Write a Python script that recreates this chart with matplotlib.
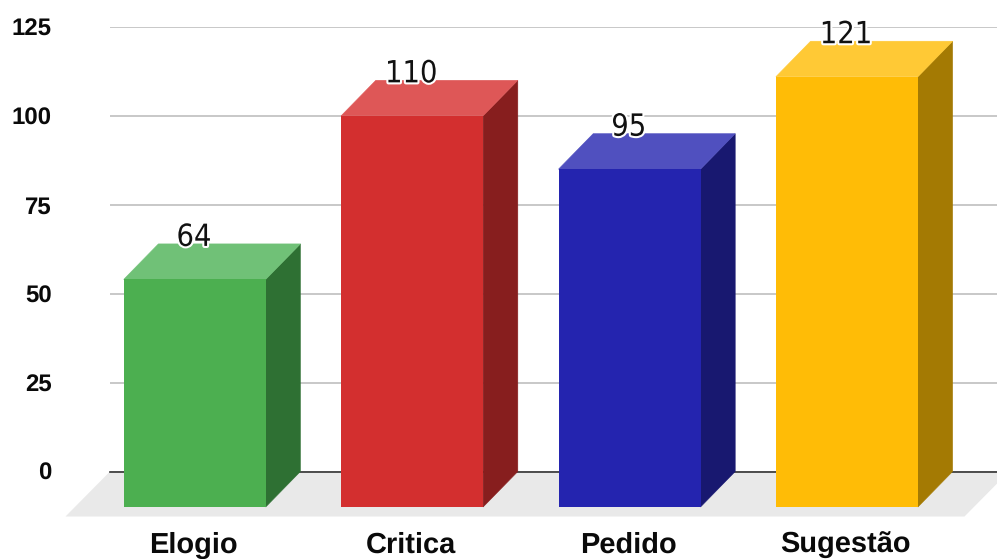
import matplotlib
matplotlib.use("Agg")
import matplotlib.pyplot as plt
import matplotlib.patheffects as pe
from matplotlib.patches import Polygon
from matplotlib.transforms import Affine2D

categories = ["Elogio", "Critica", "Pedido", "Sugestão"]
values = [64, 110, 95, 121]
y_ticks = [0, 25, 50, 75, 100, 125]
front_colors = ["#4CAF50", "#D32F2F", "#2424AF", "#FFBC06"]
top_colors = ["#70C177", "#DE5757", "#5050BF", "#FFC935"]
side_colors = ["#2E7033", "#871E1E", "#181870", "#A47A03"]

W, H = 997, 559
plt.rcParams["font.family"] = ["Liberation Sans", "DejaVu Sans"]
plt.rcParams["text.hinting"] = "no_hinting"
plt.rcParams["text.hinting_factor"] = 1
fig = plt.figure(figsize=(W / 100, H / 100), dpi=100, facecolor="white")

# axes rectangle in figure pixels
left, right, y0, y125 = 110, 1009, 471.5, 27
ax = fig.add_axes([left / W, (H - y0) / H, (right - left) / W, (y0 - y125) / H])
px_x = 217.4   # pixels per category
px_y = (y0 - y125) / 125
center0 = 194.7
ax.set_xlim((left - center0) / px_x, (right - center0) / px_x)
ax.set_ylim(0, 125)

bar_w = 142 / px_x
dx = 34.7 / px_x     # depth in x
dy = 35.5 / px_y     # depth in y

# floor
fx = 44.5 / px_x
fy = 45 / px_y
x0, x1 = ax.get_xlim()
ax.add_patch(Polygon([(x0, 0), (x1, 0), (x1 - fx, -fy), (x0 - fx, -fy)],
                     closed=True, fc="#E9E9E9", ec="none", clip_on=False, zorder=1))

ax.set_yticks(y_ticks)
ax.set_xticks(range(len(categories)), categories)
ax.grid(axis="y", color="#C8C8C8", lw=1.4, zorder=0)
ax.set_axisbelow(True)
for s in ("top", "left", "right"):
    ax.spines[s].set_visible(False)
ax.spines["bottom"].set_color("#333333")
ax.spines["bottom"].set_linewidth(1.2)
ax.spines["bottom"].set_zorder(1.5)
ax.tick_params(axis="y", length=0, pad=42, labelsize=17.4)
ax.tick_params(axis="x", length=0, pad=58.7, labelsize=20.6)
for t in ax.get_yticklabels() + ax.get_xticklabels():
    t.set_fontweight("bold")
    t.set_color("#0A0A0A")
for t in ax.get_xticklabels():
    t.set_verticalalignment("baseline")
for tick in ax.xaxis.get_major_ticks():
    tick.label1.set_transform(tick.label1.get_transform() + Affine2D().translate(-1.2, 0))

for i, v in enumerate(values):
    xl, xr = i - bar_w / 2, i + bar_w / 2
    ax.add_patch(Polygon([(xr, -dy), (xr + dx, 0), (xr + dx, v), (xr, v - dy)], closed=True,
                         fc=side_colors[i], ec=side_colors[i], lw=0.4, zorder=3, clip_on=False))
    ax.add_patch(Polygon([(xl, v - dy), (xr, v - dy), (xr + dx, v), (xl + dx, v)], closed=True,
                         fc=top_colors[i], ec=top_colors[i], lw=0.4, zorder=3, clip_on=False))
    ax.bar(i, v, width=bar_w, bottom=-dy, color=front_colors[i], zorder=3.5, clip_on=False)
    ax.annotate(str(v), (i, v), xytext=(-0.5, -2), textcoords="offset pixels",
                ha="center", va="baseline", fontsize=22, color="#111111",
                family="DejaVu Sans", stretch="condensed", zorder=5, annotation_clip=False,
                path_effects=[pe.withStroke(linewidth=3, foreground="white")])

fig.savefig("out.png", dpi=100, facecolor="white")
